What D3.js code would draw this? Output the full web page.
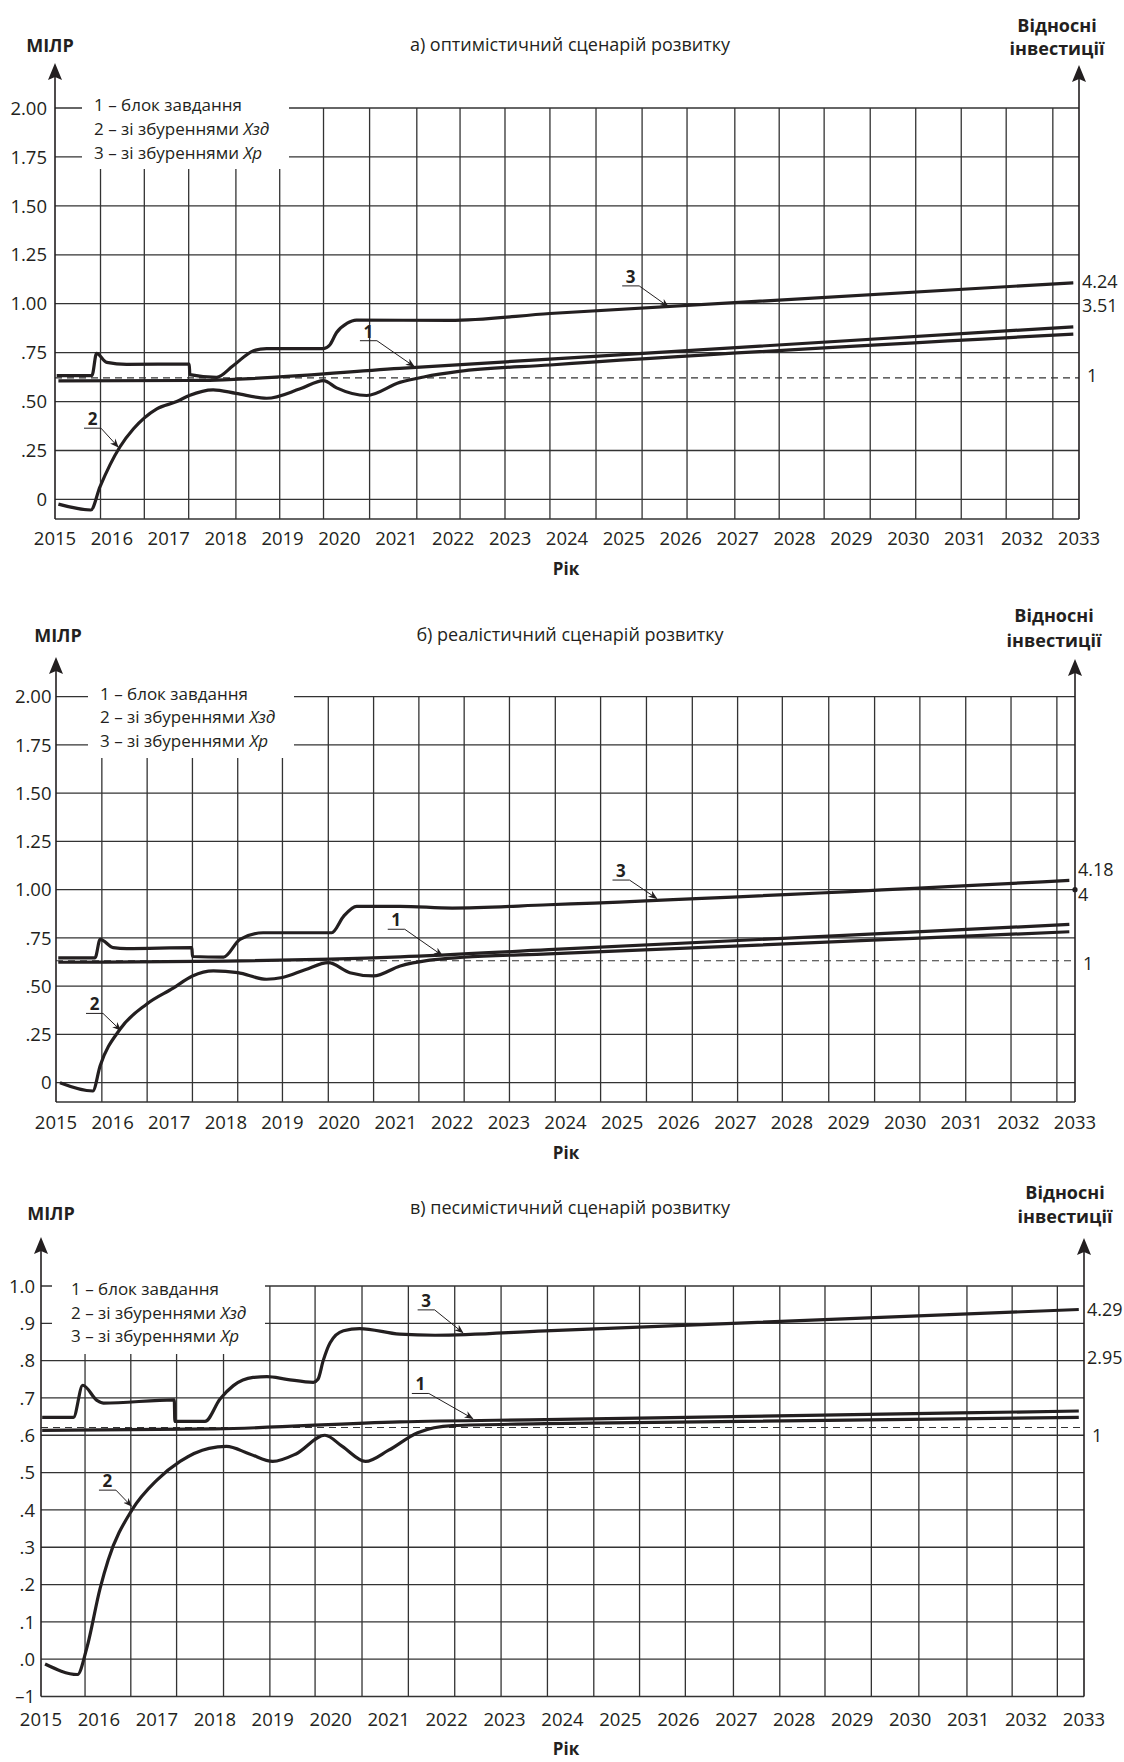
<!DOCTYPE html>
<html>
<head>
<meta charset="utf-8">
<title>Сценарії розвитку</title>
<script src="https://cdn.jsdelivr.net/npm/d3@7/dist/d3.min.js"></script>
<style>
  body { margin: 0; background: #fff; }
  svg { display: block; font-family: "Open Sans", "Noto Sans", sans-serif; }
</style>
</head>
<body>
<div id="chart"></div>
<script>
// роки на осі X
const yearLabels = [2015, 2016, 2017, 2018, 2019, 2020, 2021, 2022, 2023, 2024,
                    2025, 2026, 2027, 2028, 2029, 2030, 2031, 2032, 2033];

// поділки осі Y
const ticksAB = [0, 0.25, 0.5, 0.75, 1.0, 1.25, 1.5, 1.75, 2.0];
const tickTextAB = ["0", ".25", ".50", ".75", "1.00", "1.25", "1.50", "1.75", "2.00"];
const ticksC = [-0.1, 0, 0.1, 0.2, 0.3, 0.4, 0.5, 0.6, 0.7, 0.8, 0.9, 1.0];
const tickTextC = ["–1", ".0", ".1", ".2", ".3", ".4", ".5", ".6", ".7", ".8", ".9", "1.0"];

// вертикальна сітка (в роках)
const gridA = [2015.80, 2016.57, 2017.35, 2018.18, 2018.95, 2019.72, 2020.53, 2021.36, 2022.12, 2022.91, 2023.70,
               2024.51, 2025.32, 2026.11, 2026.95, 2027.73, 2028.52, 2029.33, 2030.13, 2030.93, 2031.72, 2032.54];
const gridB = [2015.81, 2016.61, 2017.41, 2018.21, 2019.00, 2019.81, 2020.61, 2021.41, 2022.21, 2023.01, 2023.82,
               2024.62, 2025.43, 2026.24, 2027.04, 2027.83, 2028.65, 2029.46, 2030.26, 2031.07, 2031.87, 2032.68];
const gridC = [2015.76, 2016.55, 2017.34, 2018.15, 2018.95, 2019.73, 2020.54, 2021.34, 2022.14, 2022.94, 2023.74,
               2024.54, 2025.33, 2026.12, 2026.95, 2027.75, 2028.53, 2029.33, 2030.15, 2030.98, 2031.76, 2032.54];

const legendItems = [["1 – блок завдання", ""], ["2 – зі збуреннями ", "Хзд"], ["3 – зі збуреннями ", "Хр"]];

// а) оптимістичний
const line1A = [[2015.06, 0.606], [2017.5, 0.608], [2021.06, 0.670], [2023.7, 0.717], [2032.9, 0.882]];
const line2A = [[2015.06, -0.024], [2015.63, -0.054], [2015.79, 0.064], [2016.14, 0.268], [2016.38, 0.361],
                [2016.79, 0.463], [2017.14, 0.50], [2017.36, 0.531], [2017.78, 0.56], [2018.18, 0.542],
                [2018.72, 0.517], [2019.31, 0.565], [2019.72, 0.607], [2019.95, 0.57], [2020.48, 0.531],
                [2021.06, 0.598], [2021.5, 0.627], [2022.1, 0.654], [2023.7, 0.687], [2032.9, 0.845]];
const line3A = [[2015.03, 0.633], [2015.65, 0.633], [2015.73, 0.746], [2015.91, 0.70], [2016.26, 0.69],
                [2017.36, 0.692], [2017.37, 0.638], [2017.84, 0.624], [2018.13, 0.683], [2018.49, 0.76],
                [2018.72, 0.771], [2019.72, 0.771], [2019.83, 0.789], [2019.95, 0.853], [2020.13, 0.899],
                [2020.30, 0.916], [2021.94, 0.915], [2023.7, 0.950], [2032.9, 1.107]];
const dashA = 0.621;
const notesA = [["2", 2015.51, 0.364, 2016.11, 0.268], ["1", 2020.36, 0.811, 2021.31, 0.68], ["3", 2024.97, 1.091, 2025.78, 0.985]];
const relA = [["4.24", 1.112], ["3.51", 0.993], ["1", 0.631]];

// б) реалістичний
const line1B = [[2015.04, 0.624], [2018.0, 0.630], [2021.08, 0.652], [2023.7, 0.689], [2032.9, 0.82]];
const line2B = [[2015.07, 0.0], [2015.65, -0.043], [2015.78, 0.088], [2016.13, 0.277], [2016.60, 0.407],
                [2017.07, 0.49], [2017.41, 0.553], [2017.78, 0.579], [2018.21, 0.57], [2018.72, 0.536],
                [2019.0, 0.545], [2019.4, 0.585], [2019.81, 0.622], [2020.19, 0.57], [2020.61, 0.553],
                [2021.08, 0.605], [2021.6, 0.635], [2022.2, 0.65], [2023.7, 0.667], [2032.9, 0.782]];
const line3B = [[2015.04, 0.647], [2015.69, 0.647], [2015.78, 0.743], [2016.01, 0.70], [2016.25, 0.695],
                [2017.40, 0.70], [2017.41, 0.654], [2017.96, 0.651], [2018.25, 0.743], [2018.66, 0.777],
                [2019.87, 0.777], [2020.08, 0.862], [2020.31, 0.914], [2021.08, 0.914], [2022.0, 0.905],
                [2023.7, 0.922], [2032.9, 1.048]];
const dashB = 0.632;
const notesB = [["2", 2015.53, 0.359, 2016.14, 0.272], ["1", 2020.86, 0.795, 2021.82, 0.66], ["3", 2024.83, 1.05, 2025.61, 0.955]];
const relB = [["4.18", 1.105], ["4", 0.975], ["1", 0.62]];

// в) песимістичний
const line1C = [[2015.02, 0.613], [2018.0, 0.617], [2021.19, 0.636], [2023.7, 0.642], [2032.91, 0.665]];
const line2C = [[2015.07, -0.013], [2015.63, -0.041], [2015.79, 0.03], [2016.02, 0.19], [2016.16, 0.266],
                [2016.57, 0.40], [2017.0, 0.48], [2017.4, 0.53], [2017.9, 0.565], [2018.2, 0.57],
                [2018.6, 0.55], [2019.0, 0.53], [2019.4, 0.55], [2019.9, 0.60], [2020.2, 0.57],
                [2020.6, 0.53], [2021.0, 0.56], [2021.5, 0.607], [2022.1, 0.626], [2023.7, 0.631], [2032.91, 0.648]];
const line3C = [[2015.02, 0.648], [2015.56, 0.648], [2015.72, 0.734], [2015.97, 0.693], [2016.08, 0.686],
                [2017.30, 0.695], [2017.31, 0.637], [2017.83, 0.637], [2018.09, 0.697], [2018.32, 0.733],
                [2018.66, 0.755], [2018.90, 0.757], [2019.24, 0.750], [2019.70, 0.742], [2019.78, 0.750],
                [2019.87, 0.80], [2019.99, 0.848], [2020.22, 0.88], [2020.50, 0.886], [2021.19, 0.871],
                [2021.8, 0.868], [2023.7, 0.880], [2032.91, 0.937]];
const dashC = 0.621;
const notesC = [["2", 2016.0, 0.453, 2016.56, 0.41], ["1", 2021.4, 0.712, 2022.45, 0.645], ["3", 2021.5, 0.936, 2022.28, 0.875]];
const relC = [["4.29", 0.937], ["2.95", 0.808], ["1", 0.60]];

const panels = [
  { title: "а) оптимістичний сценарій розвитку", left: 55, right: 1079, yDomain: [-0.1, 2.0], yRange: [519, 108],
    ticks: ticksAB, tickText: tickTextAB, tickDx: -8, grid: gridA, lines: [line1A, line2A, line3A], dash: dashA,
    notes: notesA, rel: relA, arrowL: 63, arrowR: 65, mlr: [50, 52], titleY: 51, relText: [1057, 32, 55],
    mask: [82, 289, 169], legend: [94, 110.5, 24], yearDy: 26, rikDy: 56 },
  { title: "б) реалістичний сценарій розвитку", left: 56, right: 1075, yDomain: [-0.1, 2.0], yRange: [1102, 696.7],
    ticks: ticksAB, tickText: tickTextAB, tickDx: -4.5, grid: gridB, lines: [line1B, line2B, line3B], dash: dashB,
    notes: notesB, rel: relB, arrowL: 657, arrowR: 659, mlr: [58, 641.7], titleY: 641, relText: [1054, 622, 647],
    mask: [88, 294, 758], legend: [100, 700, 23.3], yearDy: 27, rikDy: 57 },
  { title: "в) песимістичний сценарій розвитку", left: 41, right: 1084, yDomain: [-0.1, 1.0], yRange: [1696.5, 1286],
    ticks: ticksC, tickText: tickTextC, tickDx: -6, grid: gridC, lines: [line1C, line2C, line3C], dash: dashC,
    notes: notesC, rel: relC, arrowL: 1237, arrowR: 1238, mlr: [51, 1220], titleY: 1214, relText: [1065, 1199, 1223],
    mask: [52, 265, 1354], legend: [71, 1295, 23.5], yearDy: 29, rikDy: 58 }
];

const W = 1124, H = 1762;
const ink = "#231f20";
const svg = d3.select("#chart").append("svg").attr("width", W).attr("height", H);
svg.append("rect").attr("width", W).attr("height", H).attr("fill", "#fff");

svg.append("defs").append("marker")
  .attr("id", "tip").attr("viewBox", "0 0 10 10").attr("refX", 9).attr("refY", 5)
  .attr("markerWidth", 9).attr("markerHeight", 9).attr("markerUnits", "userSpaceOnUse")
  .attr("orient", "auto")
  .append("path").attr("d", "M0,1 L10,5 L0,9 L3,5 Z").attr("fill", ink);

function drawPanel(p) {
  const x = d3.scaleLinear().domain([2015, 2033]).range([p.left, p.right]);
  const y = d3.scaleLinear().domain(p.yDomain).range(p.yRange);
  const g = svg.append("g");
  const yTop = y(p.yDomain[1]), yBot = y(p.yDomain[0]);

  // сітка
  g.selectAll(".hg").data(p.ticks.filter(t => t > p.yDomain[0])).enter().append("line")
    .attr("x1", p.left).attr("x2", p.right).attr("y1", d => y(d)).attr("y2", d => y(d))
    .attr("stroke", "#333").attr("stroke-width", 1.3);
  g.selectAll(".vg").data(p.grid).enter().append("line")
    .attr("x1", d => x(d)).attr("x2", d => x(d)).attr("y1", yTop).attr("y2", yBot)
    .attr("stroke", "#333").attr("stroke-width", 1.3);

  // біле поле легенди
  g.append("rect").attr("x", p.mask[0]).attr("width", p.mask[1] - p.mask[0])
    .attr("y", yTop - 16).attr("height", p.mask[2] - yTop + 16).attr("fill", "#fff");

  const leg = g.selectAll(".leg").data(legendItems).enter().append("text")
    .attr("x", p.legend[0]).attr("y", (d, i) => p.legend[1] + i * p.legend[2])
    .attr("font-size", 17).attr("fill", ink);
  leg.append("tspan").text(d => d[0]);
  leg.append("tspan").attr("font-style", "italic").text(d => d[1]);

  // пунктир
  g.append("line").attr("x1", p.left).attr("x2", p.right).attr("y1", y(p.dash)).attr("y2", y(p.dash))
    .attr("stroke", "#333").attr("stroke-width", 1.1).attr("stroke-dasharray", "7,5");

  // криві
  const line = d3.line().x(d => x(d[0])).y(d => y(d[1])).curve(d3.curveMonotoneX);
  g.selectAll(".series").data(p.lines).enter().append("path")
    .attr("d", line).attr("fill", "none").attr("stroke", ink).attr("stroke-width", 3.2)
    .attr("stroke-linejoin", "round");

  // позначки 1, 2, 3
  p.notes.forEach(n => {
    const ux = x(n[1]), uy = y(n[2]);
    g.append("line").attr("x1", ux).attr("x2", ux + 17).attr("y1", uy).attr("y2", uy)
      .attr("stroke", ink).attr("stroke-width", 1);
    g.append("text").attr("x", ux + 8.5).attr("y", uy - 3).attr("text-anchor", "middle")
      .attr("font-size", 17).attr("font-weight", "bold").attr("fill", ink).text(n[0]);
    g.append("line").attr("x1", ux + 17).attr("y1", uy).attr("x2", x(n[3])).attr("y2", y(n[4]))
      .attr("stroke", ink).attr("stroke-width", 1).attr("marker-end", "url(#tip)");
  });

  // осі
  g.append("line").attr("x1", p.left).attr("x2", p.right).attr("y1", yBot).attr("y2", yBot)
    .attr("stroke", "#333").attr("stroke-width", 1.6);
  g.append("line").attr("x1", p.left).attr("x2", p.left).attr("y1", yBot).attr("y2", p.arrowL + 10)
    .attr("stroke", ink).attr("stroke-width", 1.6);
  g.append("line").attr("x1", p.right).attr("x2", p.right).attr("y1", yBot).attr("y2", p.arrowR + 10)
    .attr("stroke", ink).attr("stroke-width", 1.6);
  [[p.left, p.arrowL], [p.right, p.arrowR]].forEach(a => {
    g.append("path").attr("d", `M${a[0]},${a[1]} L${a[0] + 7},${a[1] + 17} L${a[0]},${a[1] + 14} L${a[0] - 7},${a[1] + 17} Z`)
      .attr("fill", ink);
  });

  // підписи осі Y
  g.selectAll(".yt").data(p.ticks).enter().append("text")
    .attr("x", p.left + p.tickDx).attr("y", d => y(d)).attr("dy", "0.36em")
    .attr("text-anchor", "end").attr("font-size", 18.5).attr("fill", ink)
    .text((d, i) => p.tickText[i]);

  // підписи осі X
  g.selectAll(".xt").data(yearLabels).enter().append("text")
    .attr("x", d => x(d)).attr("y", yBot + p.yearDy).attr("text-anchor", "middle")
    .attr("font-size", 18.5).attr("fill", ink).text(d => d);
  g.append("text").attr("x", 566).attr("y", yBot + p.rikDy).attr("text-anchor", "middle")
    .attr("font-size", 17).attr("font-weight", "bold").attr("fill", ink).text("Рік");

  // відносні інвестиції праворуч
  g.selectAll(".rel").data(p.rel).enter().append("text")
    .attr("x", d => p.right + (d[0] === "1" ? 8 : 3)).attr("y", d => y(d[1])).attr("dy", "0.36em")
    .attr("font-size", 18).attr("fill", ink).text(d => d[0]);
  if (p.rel.some(d => d[0] === "4")) {
    g.append("circle").attr("cx", p.right).attr("cy", y(1.0)).attr("r", 2.6).attr("fill", ink);
  }

  // заголовки
  g.append("text").attr("x", p.mlr[0]).attr("y", p.mlr[1]).attr("text-anchor", "middle")
    .attr("font-size", 18).attr("font-weight", "bold").attr("fill", ink).text("МІЛР");
  g.append("text").attr("x", 570).attr("y", p.titleY).attr("text-anchor", "middle")
    .attr("font-size", 18).attr("fill", ink).text(p.title);
  g.append("text").attr("x", p.relText[0]).attr("y", p.relText[1]).attr("text-anchor", "middle")
    .attr("font-size", 18).attr("font-weight", "bold").attr("fill", ink).text("Відносні");
  g.append("text").attr("x", p.relText[0]).attr("y", p.relText[2]).attr("text-anchor", "middle")
    .attr("font-size", 18).attr("font-weight", "bold").attr("fill", ink).text("інвестиції");
}

panels.forEach(drawPanel);
</script>
</body>
</html>
